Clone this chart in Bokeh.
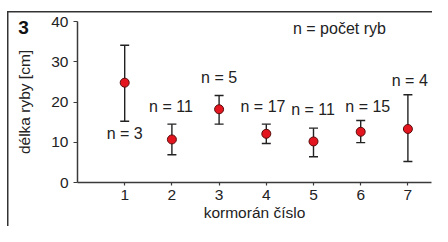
from bokeh.plotting import figure
from bokeh.models import (ColumnDataSource, Whisker, TeeHead, Label,
                          FixedTicker, Range1d)
from bokeh.embed import file_html
from bokeh.resources import INLINE
from bokeh.core.properties import value

# ---- data ----
cormorant = [1, 2, 3, 4, 5, 6, 7]
mean_len = [24.8, 10.7, 18.2, 12.1, 10.2, 12.6, 13.3]
upper_len = [34.1, 14.5, 21.6, 14.5, 13.5, 15.4, 21.8]
lower_len = [15.2, 6.9, 14.5, 9.7, 6.4, 9.9, 5.2]
n_text = ["n = 3", "n = 11", "n = 5", "n = 17", "n = 11", "n = 15", "n = 4"]
n_x = [1.0, 1.98, 3.0, 3.93, 4.99, 6.15, 7.04]
n_y = [12.1, 18.9, 26.0, 18.9, 18.2, 18.9, 25.3]
y_ticks = [0, 10, 20, 30, 40]
x_ticks = [1, 2, 3, 4, 5, 6, 7]
legend_text = "n = počet ryb"
panel_text = "3"
x_title = "kormorán číslo"
y_title = "délka ryby [cm]"

FONT = "Liberation Sans"
INK = "#222222"
AXIS = "#3a3a3a"

src = ColumnDataSource(dict(x=cormorant, m=mean_len, up=upper_len, lo=lower_len))
lab = ColumnDataSource(dict(x=n_x, y=n_y, t=n_text))

p = figure(width=432, height=226, output_backend="svg", toolbar_location=None,
           x_range=Range1d(0, 7.5), y_range=Range1d(0, 40),
           min_border_left=77, min_border_right=1, min_border_top=21,
           min_border_bottom=44)
p.outline_line_color = None
p.xgrid.visible = False
p.ygrid.visible = False
p.background_fill_color = "white"
p.border_fill_alpha = 0
# panel border: left and top edges of the boxed figure panel
p.styles = {
    "background": "linear-gradient(#333,#333) 7px 11px / 1.5px 100% no-repeat, "
                  "linear-gradient(#333,#333) 7px 11px / 100% 1.5px no-repeat, white"
}

for ax in (p.xaxis[0], p.yaxis[0]):
    ax.axis_line_color = AXIS
    ax.axis_line_width = 1.5
    ax.major_tick_line_color = AXIS
    ax.major_tick_line_width = 1.2
    ax.minor_tick_line_color = None
    ax.major_tick_in = 0
    ax.major_label_text_font = FONT
    ax.major_label_text_font_size = "15.5px"
    ax.major_label_text_color = INK
    ax.axis_label_text_font = FONT
    ax.axis_label_text_font_size = "15.5px"
    ax.axis_label_text_font_style = "normal"
    ax.axis_label_text_color = INK

p.xaxis.ticker = FixedTicker(ticks=x_ticks)
p.yaxis.ticker = FixedTicker(ticks=y_ticks)
p.xaxis.major_tick_out = 3
p.yaxis.major_tick_out = 4
p.xaxis.major_label_standoff = 4
p.yaxis.major_label_standoff = 5
p.xaxis.axis_label = x_title
p.yaxis.axis_label = y_title
p.xaxis.axis_label_standoff = 1
p.yaxis.axis_label_standoff = 15

# error bars
w = Whisker(base="x", upper="up", lower="lo", source=src, dimension="height",
            line_color=INK, line_width=1.4,
            upper_head=TeeHead(size=9, line_color=INK, line_width=1.4),
            lower_head=TeeHead(size=9, line_color=INK, line_width=1.4))
p.add_layout(w)

p.scatter("x", "m", source=src, size=9, fill_color="#e3151f",
          line_color="#5a0c0c", line_width=1)

p.text("x", "y", text="t", source=lab, text_font=value(FONT),
       text_font_size="16px", text_color=INK, text_align="center",
       text_baseline="middle")

p.add_layout(Label(x=5.55, y=38.3, text=legend_text, text_font=FONT,
                   text_font_size="16px", text_color=INK, text_align="center",
                   text_baseline="middle"))

# panel letter, in a side panel so it is not clipped to the frame
p.add_layout(Label(x=23, y=27, x_units="canvas", y_units="canvas",
                   text=panel_text, text_font=FONT, text_font_size="19px",
                   text_font_style="bold", text_color="#111111",
                   text_align="center", text_baseline="middle"), "left")

open("out.html", "w").write(file_html(p, INLINE))
